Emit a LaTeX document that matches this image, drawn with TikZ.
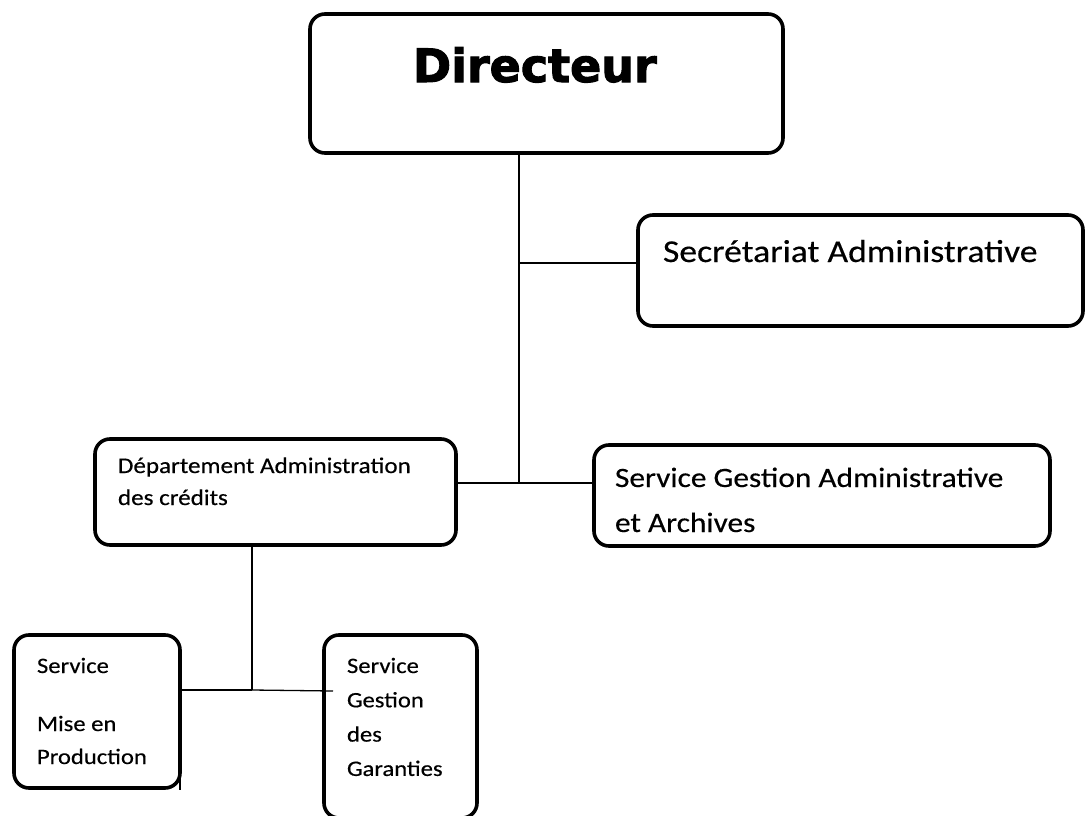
\documentclass[tikz,border=0pt]{standalone}
\usepackage{fontspec}
\usetikzlibrary{calc}
\newfontfamily\cali[FakeStretch=1.12,FakeBold=0.4]{Carlito}
\newfontfamily\blackfont[FakeBold=2.2]{DejaVu Sans Bold}
\begin{document}
\begin{tikzpicture}[x=1pt,y=-1pt,
  box/.style={draw=black,line width=3.6pt,rounded corners=15pt,rectangle,inner sep=0pt,outer sep=0pt},
  conn/.style={draw=black,line width=1.3pt},
  txt/.style={anchor=base west,inner sep=0pt,outer sep=0pt,text=black,align=left}]
\useasboundingbox (0,0) rectangle (1085,816);
\fill[white] (0,0) rectangle (1085,816);
% boxes
\node[box,minimum width=473pt,minimum height=139pt] (dir) at (546.5,83.5) {};
\node[box,minimum width=445pt,minimum height=111pt] (sec) at (860.5,270.5) {};
\node[box,minimum width=361pt,minimum height=106pt] (dep) at (275.5,492) {};
\node[box,minimum width=456pt,minimum height=101pt] (sga) at (822,495.5) {};
\node[box,minimum width=166pt,minimum height=153pt] (mise) at (97,711.5) {};
\node[box,minimum width=153pt,minimum height=183pt] (gar) at (400.5,726.5) {};
% texts
\node[txt,font={\blackfont\fontsize{46}{56}\selectfont}] (tdir) at (413,82) {Directeur};
\node[txt,font={\cali\fontsize{31.8}{37}\selectfont}] (tsec) at (663,262) {Secrétariat Administrative};
\node[txt,font={\cali\fontsize{28}{45}\selectfont}] (tsga) at (615,487)
  {\vtop{\hbox{Service Gestion Administrative}\hbox{et Archives}}};
\node[txt,font={\cali\fontsize{22.4}{32}\selectfont}] (tdep) at (118,473)
  {\vtop{\hbox{Département Administration}\hbox{des crédits}}};
\node[txt,font={\cali\fontsize{22}{33}\selectfont}] (tmise) at (37,673)
  {\vtop{\hbox{Service}\vskip25pt\hbox{Mise en}\hbox{Production}}};
\node[txt,font={\cali\fontsize{22}{34.3}\selectfont}] (tgar) at (347,673)
  {\vtop{\hbox{Service}\hbox{Gestion}\hbox{des}\hbox{Garanties}}};
% junctions
\coordinate (j1) at (519,263);
\coordinate (j2) at (519,483);
\coordinate (j3) at (252,690);
% connectors
\draw[conn] (dir.south -| j1) -- (j2);
\draw[conn] (j1) -- (sec.west |- j1);
\draw[conn] (dep.east |- j2) -- (sga.west |- j2);
\draw[conn] (dep.south -| j3) -- (j3);
\draw[conn] (mise.east |- j3) -- (j3);
\draw[conn] (j3) -- ($(gar.west |- j3)+(9,1)$);
\draw[conn] ($(mise.south east)+(0,-15)$) -- ($(mise.south east)+(0,2)$);
\end{tikzpicture}
\end{document}
